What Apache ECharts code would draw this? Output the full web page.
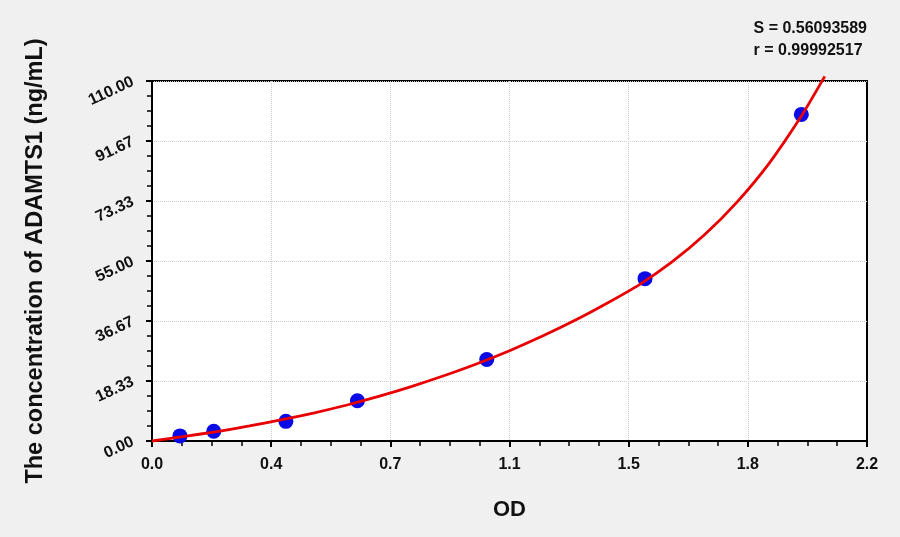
<!DOCTYPE html>
<html>
<head>
    <meta charset="UTF-8"/>
    <script type="text/javascript" src="https://cdn.jsdelivr.net/npm/echarts@6/dist/echarts.min.js"></script>
    <title>ADAMTS1 standard curve</title>
    <style>
        html, body { margin: 0; padding: 0; background: #f0f0f0; }
        #chart { width: 900px; height: 537px; }
    </style>
</head>
<body>
<div id="chart"></div>

<script type="application/javascript">
    // standard points (OD vs concentration)
    var odValues = [0.086, 0.19, 0.412, 0.632, 1.03, 1.517, 1.998];
    var concValues = [1.56, 3.0, 6.0, 12.3, 24.9, 49.6, 99.8];

    // fitted curve
    var curveOd = [0, 0.1, 0.2, 0.3, 0.4, 0.5, 0.6, 0.7, 0.8, 0.9, 1.0, 1.1, 1.2, 1.3, 1.4, 1.5, 1.6, 1.7, 1.8, 1.9, 2.0, 2.07];
    var curveConc = [0, 1.4, 2.9, 4.6, 6.5, 8.6, 11.0, 13.7, 16.7, 20.0, 23.6, 27.6, 32.0, 36.8, 42.1, 47.8, 54.7, 63.0, 73.0, 85.0, 99.6, 111.4];

    var statLines = ['S = 0.56093589', 'r = 0.99992517'];

    var xMax = 2.2;
    var yMax = 110;

    function pairs(xs, ys) {
        var out = [];
        for (var i = 0; i < xs.length; i++) {
            out.push([xs[i], ys[i]]);
        }
        return out;
    }

    var myChart = echarts.init(document.getElementById('chart'));
    var option = {
        backgroundColor: '#f0f0f0',
        animation: false,
        title: {
            text: statLines.join('\n'),
            right: 28,
            top: 13,
            textStyle: {
                fontFamily: 'Arial',
                fontSize: 16,
                fontWeight: 'bold',
                color: '#111',
                lineHeight: 22,
                align: 'right'
            }
        },
        grid: {
            left: 152,
            top: 81,
            right: 33,
            bottom: 96,
            show: true,
            backgroundColor: '#ffffff',
            borderColor: '#000',
            borderWidth: 2
        },
        xAxis: {
            type: 'value',
            min: 0,
            max: xMax,
            interval: xMax / 6,
            name: 'OD',
            nameLocation: 'middle',
            nameGap: 58,
            nameTextStyle: {fontFamily: 'Arial', fontSize: 22, fontWeight: 'bold', color: '#111'},
            axisLine: {lineStyle: {color: '#000', width: 2}},
            axisTick: {show: true, length: 6, lineStyle: {color: '#000', width: 2}},
            minorTick: {show: true, splitNumber: 4, length: 5, lineStyle: {color: '#000', width: 1.5}},
            axisLabel: {
                margin: 16,
                fontFamily: 'Arial',
                fontSize: 16,
                fontWeight: 'bold',
                color: '#111',
                formatter: function (v) { return v.toFixed(1); }
            },
            splitLine: {
                show: true,
                showMinLine: false,
                showMaxLine: false,
                lineStyle: {color: '#cccccc', type: 'dotted', width: 1}
            }
        },
        yAxis: {
            type: 'value',
            min: 0,
            max: yMax,
            interval: yMax / 6,
            name: 'The concentration of ADAMTS1 (ng/mL)',
            nameLocation: 'middle',
            nameGap: 104,
            nameTextStyle: {fontFamily: 'Arial', fontSize: 23.5, fontWeight: 'bold', color: '#111'},
            axisLine: {lineStyle: {color: '#000', width: 2}},
            axisTick: {show: true, length: 6, lineStyle: {color: '#000', width: 2}},
            minorTick: {show: true, splitNumber: 4, length: 5, lineStyle: {color: '#000', width: 1.5}},
            axisLabel: {
                rotate: 25,
                margin: 19,
                padding: [7, 0, 0, 0],
                fontFamily: 'Arial',
                fontSize: 16,
                fontWeight: 'bold',
                color: '#111',
                formatter: function (v) { return v.toFixed(2); }
            },
            splitLine: {
                show: true,
                showMinLine: false,
                showMaxLine: false,
                lineStyle: {color: '#cccccc', type: 'dotted', width: 1}
            }
        },
        series: [
            {
                name: 'fit',
                type: 'line',
                data: pairs(curveOd, curveConc),
                smooth: 0.2,
                showSymbol: false,
                clip: false,
                lineStyle: {color: '#e80000', width: 2.8},
                z: 3
            },
            {
                name: 'standards',
                type: 'scatter',
                data: pairs(odValues, concValues),
                symbol: 'circle',
                symbolSize: 15,
                itemStyle: {color: '#0a0ae6', opacity: 1},
                z: 2
            }
        ]
    };
    myChart.setOption(option);
</script>
</body>
</html>
